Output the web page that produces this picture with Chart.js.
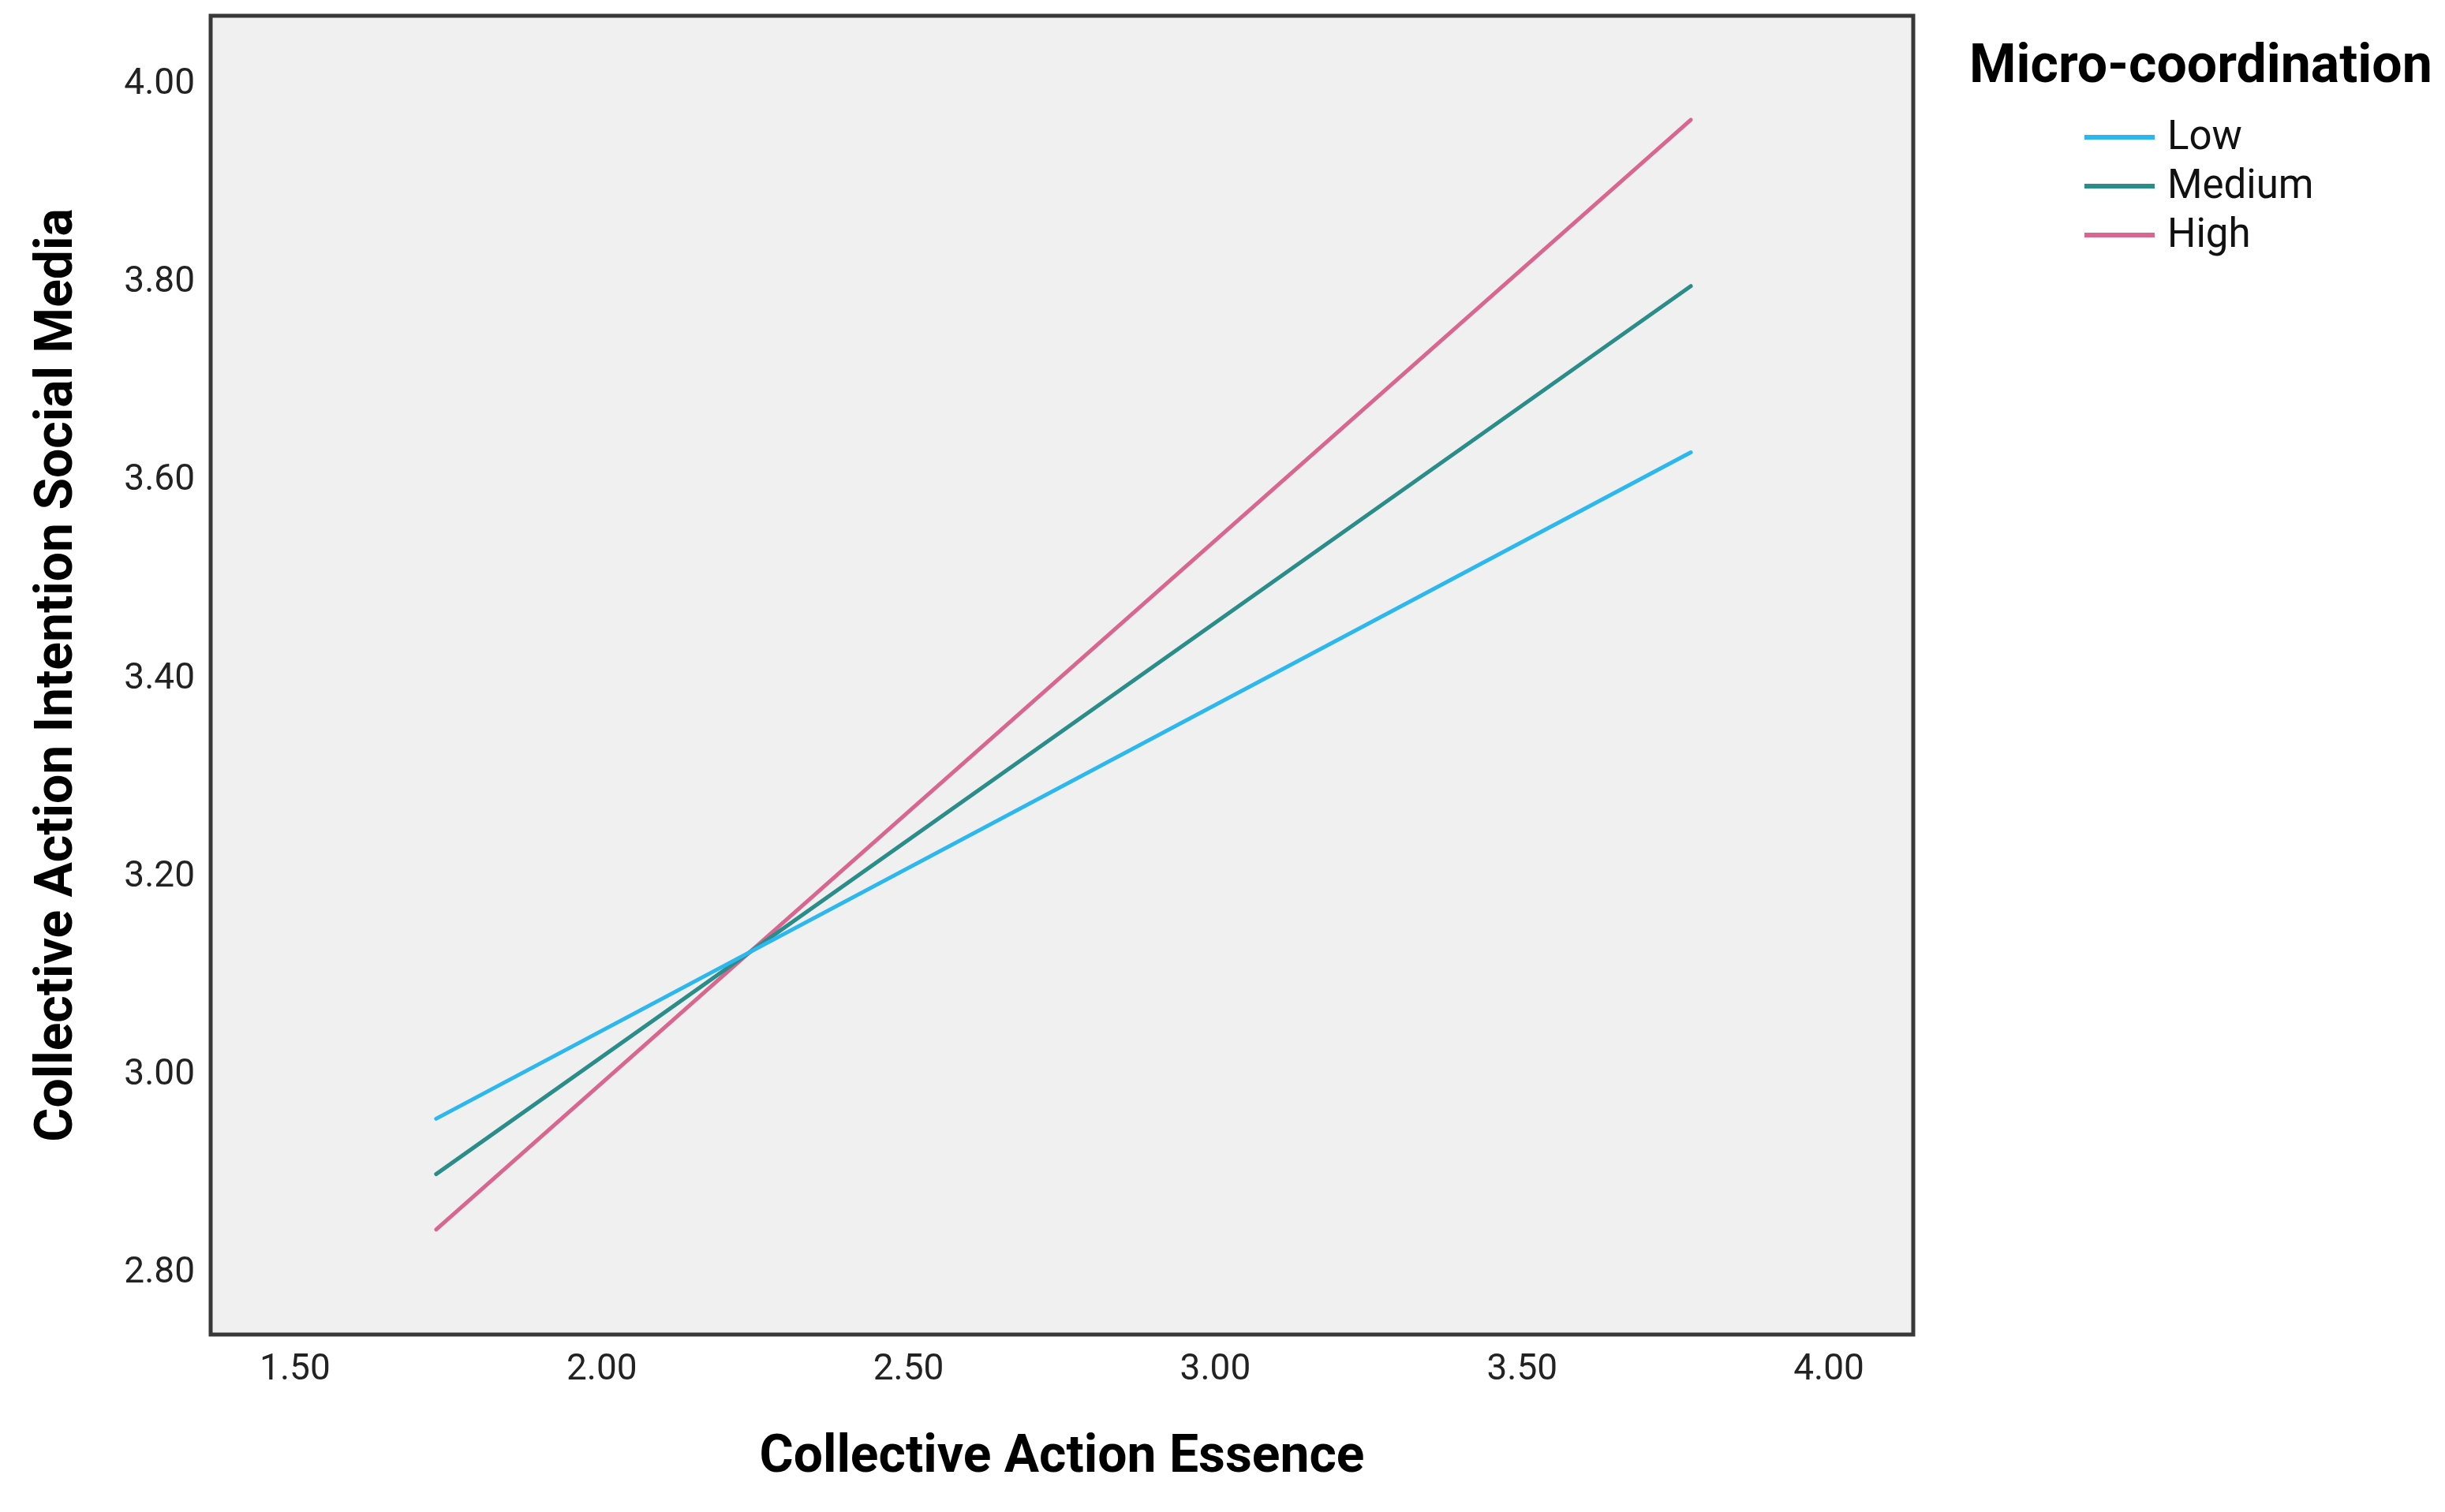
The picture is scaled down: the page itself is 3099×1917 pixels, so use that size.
<!DOCTYPE html>
<html>
<head>
<meta charset="utf-8">
<title>Collective Action Essence × Micro-coordination</title>
<script src="https://cdn.jsdelivr.net/npm/chart.js@4/dist/chart.umd.min.js"></script>
<style>
  html, body { margin: 0; padding: 0; background: #ffffff; }
  canvas { display: block; }
</style>
</head>
<body>
<canvas id="chart" width="3099" height="1917"></canvas>
<script>
// Simple slopes: Collective Action Essence -> Intention (Social Media), by Micro-coordination level
const essenceX = [1.73, 3.775];
const lowValues = [2.956, 3.629];
const mediumValues = [2.900, 3.797];
const highValues = [2.844, 3.965];

const seriesLabels = ['Low', 'Medium', 'High'];
const seriesColors = ['#2db7ef', '#2a8d89', '#d9668f'];

const xTicks = [1.5, 2.0, 2.5, 3.0, 3.5, 4.0];
const yTicks = [2.8, 3.0, 3.2, 3.4, 3.6, 3.8, 4.0];

const FONT = "Roboto, 'Open Sans', sans-serif";

function toPoints(xs, ys) {
    return xs.map((x, i) => ({ x, y: ys[i] }));
}

// grey plot panel + dark frame like SPSS output
const panelPlugin = {
    id: 'panel',
    beforeDatasetsDraw(chart) {
        const { ctx, chartArea: a } = chart;
        ctx.save();
        ctx.fillStyle = '#f0f0f0';
        ctx.fillRect(a.left, a.top, a.right - a.left, a.bottom - a.top);
        ctx.restore();
    },
    afterDatasetsDraw(chart) {
        const { ctx, chartArea: a } = chart;
        ctx.save();
        ctx.strokeStyle = '#383838';
        ctx.lineWidth = 5;
        ctx.strokeRect(a.left, a.top, a.right - a.left, a.bottom - a.top);
        ctx.restore();
    }
};

// legend block on the right, built from the datasets
const sideLegend = {
    id: 'sideLegend',
    afterDraw(chart) {
        const ctx = chart.ctx;
        ctx.save();
        ctx.textBaseline = 'middle';
        ctx.textAlign = 'left';
        ctx.fillStyle = '#000';
        ctx.font = `bold 68px ${FONT}`;
        ctx.fillText('Micro-coordination', 2496, 87);

        ctx.font = `51px ${FONT}`;
        chart.data.datasets.forEach((ds, i) => {
            const y = 174 + i * 62;
            ctx.strokeStyle = ds.borderColor;
            ctx.lineWidth = 6;
            ctx.beginPath();
            ctx.moveTo(2642, y);
            ctx.lineTo(2731, y);
            ctx.stroke();
            ctx.fillStyle = '#111';
            ctx.fillText(ds.label, 2747, y + 2);
        });
        ctx.restore();
    }
};

const series = [lowValues, mediumValues, highValues];

new Chart(document.getElementById('chart'), {
    type: 'line',
    data: {
        datasets: series.map((vals, i) => ({
            label: seriesLabels[i],
            data: toPoints(essenceX, vals),
            borderColor: seriesColors[i],
            backgroundColor: seriesColors[i],
            borderWidth: 5,
            borderCapStyle: 'round',
            pointRadius: 0,
            fill: false,
            tension: 0,
        })),
    },
    options: {
        responsive: false,
        animation: false,
        layout: { padding: { left: 0, top: 20, right: 674, bottom: 0 } },
        plugins: {
            legend: { display: false },
            tooltip: { enabled: false },
        },
        scales: {
            x: {
                type: 'linear',
                min: 1.3625,
                max: 4.1375,
                grid: { display: false, drawTicks: false },
                border: { display: false },
                afterBuildTicks: (scale) => { scale.ticks = xTicks.map(v => ({ value: v })); },
                afterFit: (scale) => {
                    scale.height = 225;
                    scale.paddingLeft = 0;
                    scale.paddingRight = 0;
                },
                ticks: {
                    padding: 18,
                    color: '#222',
                    font: { family: FONT, size: 46 },
                    callback: (v) => Number(v).toFixed(2),
                },
                title: {
                    display: true,
                    text: 'Collective Action Essence',
                    color: '#000',
                    font: { family: FONT, size: 66, weight: 'bold' },
                    padding: { top: 0, bottom: 28 },
                },
            },
            y: {
                min: 2.738,
                max: 4.070,
                grid: { display: false, drawTicks: false },
                border: { display: false },
                afterBuildTicks: (scale) => { scale.ticks = yTicks.map(v => ({ value: v })); },
                afterFit: (scale) => {
                    scale.width = 267;
                    scale.paddingTop = 0;
                    scale.paddingBottom = 0;
                },
                ticks: {
                    padding: 20,
                    color: '#222',
                    font: { family: FONT, size: 46 },
                    callback: (v) => Number(v).toFixed(2),
                },
                title: {
                    display: true,
                    text: 'Collective Action Intention Social Media',
                    color: '#000',
                    font: { family: FONT, size: 66, weight: 'bold' },
                    padding: { top: 35, bottom: 0 },
                },
            },
        },
    },
    plugins: [panelPlugin, sideLegend],
});
</script>
</body>
</html>
